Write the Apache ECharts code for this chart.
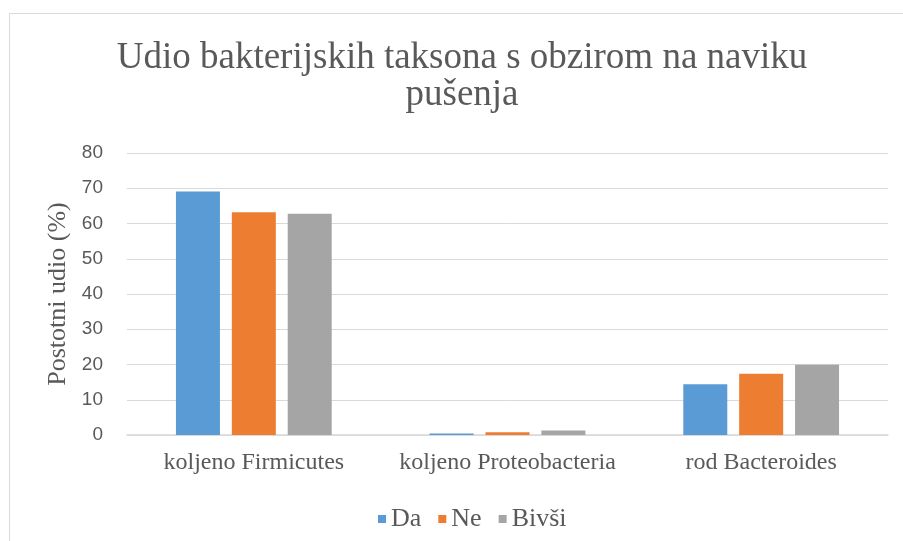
<!DOCTYPE html>
<html>
<head>
<meta charset="utf-8">
<script src="https://cdn.jsdelivr.net/npm/echarts@6/dist/echarts.min.js"></script>
<style>
  html, body { margin: 0; padding: 0; background: #fff; }
  #chart { width: 903px; height: 541px; }
</style>
</head>
<body>
<div id="chart"></div>
<script>
// data
const categories = ["koljeno Firmicutes", "koljeno Proteobacteria", "rod Bacteroides"];
const seriesNames = ["Da", "Ne", "Bivši"];
const daValues = [69.1, 0.4, 14.4];
const neValues = [63.2, 0.8, 17.4];
const bivsiValues = [62.8, 1.3, 19.9];
const colors = ["#5B9BD5", "#ED7D31", "#A5A5A5"];

const serif = "Liberation Serif";
const sans = "Liberation Sans";

const chart = echarts.init(document.getElementById("chart"));

const values = [daValues, neValues, bivsiValues];

chart.setOption({
  animation: false,
  color: colors,
  textStyle: { fontFamily: serif },
  title: {
    text: "Udio bakterijskih taksona s obzirom na naviku\npušenja",
    left: 457,
    top: 35,
    textAlign: "center",
    textStyle: {
      fontFamily: serif,
      fontWeight: "normal",
      fontSize: 37,
      lineHeight: 37,
      color: "#595959"
    }
  },
  graphic: [
    {
      type: "rect",
      shape: { x: 9.5, y: 13.5, width: 1000, height: 1000 },
      style: { fill: "none", stroke: "#d9d9d9", lineWidth: 1 },
      silent: true
    }
  ],
  legend: {
    data: seriesNames,
    left: 373,
    top: 501,
    icon: "rect",
    itemWidth: 8,
    itemHeight: 8,
    itemGap: 17,
    textStyle: { fontFamily: serif, fontSize: 26, color: "#595959" }
  },
  grid: {
    left: 127,
    right: 15,
    top: 153,
    bottom: 106,
    containLabel: false
  },
  xAxis: {
    type: "category",
    data: categories,
    axisLine: { lineStyle: { color: "#d9d9d9", width: 1.5 } },
    axisTick: { show: false },
    axisLabel: {
      interval: 0,
      margin: 16,
      fontFamily: serif,
      fontSize: 24,
      color: "#595959"
    }
  },
  yAxis: {
    type: "value",
    min: 0,
    max: 80,
    interval: 10,
    name: "Postotni udio (%)",
    nameLocation: "middle",
    nameGap: 53,
    nameTextStyle: { fontFamily: serif, fontSize: 26, color: "#595959" },
    axisLine: { show: false },
    axisTick: { show: false },
    axisLabel: {
      margin: 24,
      fontFamily: sans,
      fontSize: 19,
      color: "#595959"
    },
    splitLine: { lineStyle: { color: "#d9d9d9", width: 1 } }
  },
  series: seriesNames.map(function (name, i) {
    return {
      name: name,
      type: "bar",
      data: values[i],
      barWidth: 44,
      barGap: "27%"
    };
  })
});
</script>
</body>
</html>
